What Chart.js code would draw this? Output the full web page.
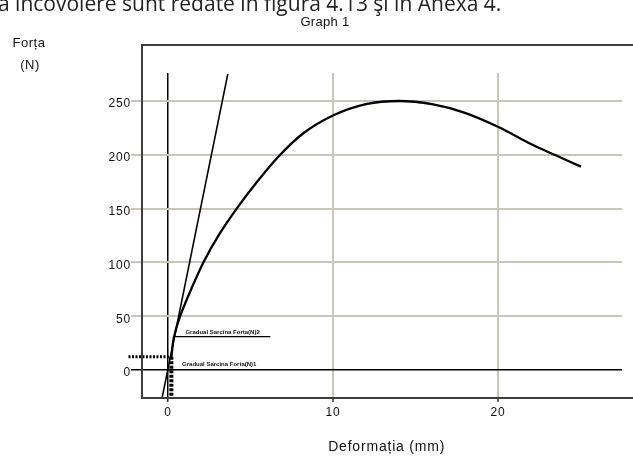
<!DOCTYPE html>
<html>
<head>
<meta charset="utf-8">
<script src="https://cdn.jsdelivr.net/npm/chart.js@4"></script>
<style>
  html,body{margin:0;padding:0;background:#fff;}
  #wrap{position:relative;width:633px;height:458px;overflow:hidden;}
  canvas{position:absolute;left:0;top:0;}
  .t{position:absolute;white-space:nowrap;color:#111;font-family:"Liberation Sans",Arial,sans-serif;}
  .c{text-align:center;}
</style>
</head>
<body>
<div id="wrap">
  <canvas id="c" width="633" height="458"></canvas>
  <div class="t" style="left:-2px;top:-9px;font-family:'Open Sans',sans-serif;font-size:21px;line-height:24px;color:#222;">ă încovoiere sunt redate în figura 4.13 şi în Anexa 4.</div>
  <div class="t c" style="left:275px;width:100px;top:14px;font-size:13px;line-height:16px;letter-spacing:0.3px;">Graph 1</div>
  <div class="t c" style="left:0px;width:58px;top:35px;font-size:13px;line-height:16px;letter-spacing:0.5px;">Forța</div>
  <div class="t c" style="left:0px;width:60px;top:57px;font-size:13px;line-height:16px;letter-spacing:0.5px;">(N)</div>
</div>
<script>
// ---- data ----
const curveX = [0.2, 0.35, 0.73, 1.4, 2.14, 3.1, 4.16, 5.35, 6.67, 8.2, 10, 12, 14, 16, 18, 20, 22, 23.5, 25.03];
const curveY = [12, 30, 50, 75, 100, 126, 150, 174, 198, 220, 236.5, 247, 250, 247, 239, 226, 210, 199.5, 189];
const slopeX = [-0.35, 3.62];
const slopeY = [-25, 275];
const dotHX = [-2.4, 0.2];
const dotHY = [12.4, 12.4];
const dotVX = [0.2, 0.2];
const dotVY = [12.4, -26];
const leadX = [0.42, 6.2];
const leadY = [31, 31];
const markLabels = ['Gradual Sarcina Forta(N)2', 'Gradual Sarcina Forta(N)1'];
const markLabelX = [1.05, 0.85];
const markLabelY = [32.5, 2.5];
const xTicks = [0, 10, 20];
const yTicks = [0, 50, 100, 150, 200, 250];
const xTitle = 'Deformația (mm)';

const pts = (xs, ys) => xs.map((x, i) => ({x, y: ys[i]}));
const GRID = '#c9c6b9';
const FONT = '"Liberation Sans", Arial, sans-serif';

const framePlugin = {
  id: 'frame',
  beforeDraw(chart) {
    chart.ctx.letterSpacing = '0.8px';
  },
  afterDatasetsDraw(chart) {
    const {ctx, chartArea: a, scales} = chart;
    ctx.save();
    ctx.letterSpacing = '0px';
    // small mark labels
    ctx.fillStyle = '#111';
    ctx.font = 'bold 6px ' + FONT;
    ctx.textBaseline = 'bottom';
    markLabels.forEach((t, i) => {
      const px = scales.x.getPixelForValue(markLabelX[i]);
      const py = scales.y.getPixelForValue(markLabelY[i]);
      ctx.fillText(t, px, py);
    });
    // frame
    ctx.strokeStyle = '#3d3d3d';
    ctx.lineWidth = 2;
    ctx.beginPath();
    ctx.moveTo(chart.width + 2, a.top - 28);
    ctx.lineTo(a.left, a.top - 28);
    ctx.lineTo(a.left, a.bottom);
    ctx.lineTo(chart.width + 2, a.bottom);
    ctx.stroke();
    ctx.restore();
  }
};

new Chart(document.getElementById('c'), {
  type: 'scatter',
  data: {
    datasets: [
      {data: pts(curveX, curveY), showLine: true, borderColor: '#000', borderWidth: 2.3, pointRadius: 0, tension: 0.3},
      {data: pts(slopeX, slopeY), showLine: true, borderColor: '#000', borderWidth: 1.6, pointRadius: 0},
      {data: pts(dotHX, dotHY), showLine: true, borderColor: '#000', borderWidth: 3, borderDash: [2, 1.5], pointRadius: 0, clip: false},
      {data: pts(dotVX, dotVY), showLine: true, borderColor: '#000', borderWidth: 4, borderDash: [3, 1.5], pointRadius: 0, clip: false},
      {data: pts(leadX, leadY), showLine: true, borderColor: '#000', borderWidth: 1.2, pointRadius: 0}
    ]
  },
  options: {
    responsive: false,
    animation: false,
    layout: {padding: {left: 0, right: 11, top: 73, bottom: 0}},
    plugins: {legend: {display: false}, tooltip: {enabled: false}, title: {display: false}},
    scales: {
      x: {
        type: 'linear', min: -1.58, max: 27.52,
        afterFit: s => { s.height = 60; },
        afterBuildTicks: s => { s.ticks = xTicks.map(v => ({value: v})); },
        border: {display: false},
        grid: {
          color: c => (c.tick && c.tick.value === 0) ? '#000' : GRID,
          lineWidth: c => (c.tick && c.tick.value === 0) ? 1.5 : 2,
          tickColor: '#333', tickLength: 4, tickWidth: 1.5
        },
        ticks: {color: '#111', font: {family: FONT, size: 12}, padding: 3, maxRotation: 0, includeBounds: false},
        title: {display: true, text: '  ' + xTitle, color: '#111', font: {family: FONT, size: 14}, padding: {top: 0, bottom: 2}}
      },
      y: {
        type: 'linear', min: -26, max: 276,
        afterFit: s => { s.width = 142; },
        afterBuildTicks: s => { s.ticks = yTicks.map(v => ({value: v})); },
        border: {display: false},
        grid: {
          color: c => (c.tick && c.tick.value === 0) ? '#000' : GRID,
          lineWidth: c => (c.tick && c.tick.value === 0) ? 1.5 : 2,
          tickLength: 11
        },
        ticks: {color: '#111', font: {family: FONT, size: 12}, padding: 0, labelOffset: 3, includeBounds: false}
      }
    }
  },
  plugins: [framePlugin]
});
</script>
</body>
</html>
